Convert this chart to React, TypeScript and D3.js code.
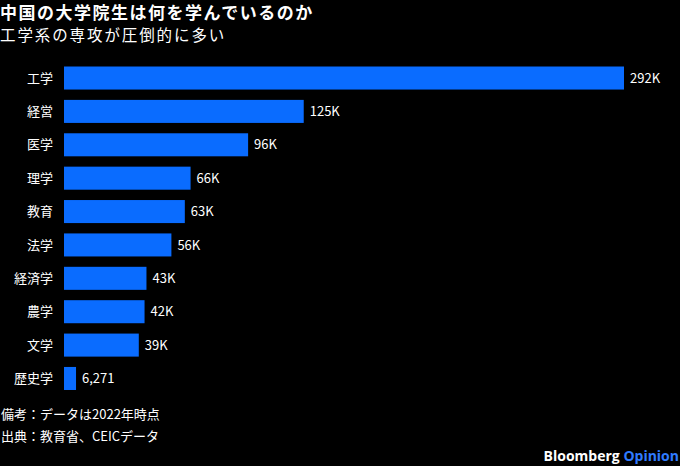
import { useEffect, useRef } from 'react'
import * as d3 from 'd3'

const categories = ['工学', '経営', '医学', '理学', '教育', '法学', '経済学', '農学', '文学', '歴史学']
const values = [292000, 125000, 96000, 66000, 63000, 56000, 43000, 42000, 39000, 6271]

const title = '中国の大学院生は何を学んでいるのか'
const subtitle = '工学系の専攻が圧倒的に多い'
const notes = ['備考：データは2022年時点', '出典：教育省、CEICデータ']

const W = 680
const H = 466
const FONT = '"Noto Sans CJK JP", "Noto Sans", sans-serif'

const fmt = (v: number) => (v >= 10000 ? Math.round(v / 1000) + 'K' : d3.format(',')(v))

export default function App() {
  const svgRef = useRef<SVGSVGElement>(null)

  useEffect(() => {
    if (!svgRef.current) return
    const svg = d3.select(svgRef.current)
    svg.selectAll('*').remove()

    svg.append('rect').attr('width', W).attr('height', H).attr('fill', '#000')

    const x = d3.scaleLinear().domain([0, 292000]).range([64, 624])
    const y = d3.scaleBand().domain(categories).range([61.5, 395]).paddingInner(0.31).paddingOuter(0.15)

    svg.append('text')
      .attr('x', 0).attr('y', 19)
      .attr('fill', '#fff').attr('font-size', 17).attr('font-weight', 700)
      .attr('letter-spacing', 1.5)
      .attr('font-family', FONT)
      .text(title)

    svg.append('text')
      .attr('x', 0).attr('y', 41)
      .attr('fill', '#fff').attr('font-size', 15.5)
      .attr('letter-spacing', 1.9)
      .attr('font-family', FONT)
      .text(subtitle)

    const g = svg.append('g')

    g.selectAll('rect.bar')
      .data(values)
      .enter().append('rect')
      .attr('class', 'bar')
      .attr('x', x(0))
      .attr('y', (_, i) => y(categories[i])!)
      .attr('width', d => x(d) - x(0))
      .attr('height', y.bandwidth())
      .attr('fill', '#0a6cff')

    g.selectAll('text.cat')
      .data(categories)
      .enter().append('text')
      .attr('class', 'cat')
      .attr('x', 53)
      .attr('y', d => y(d)! + y.bandwidth() / 2)
      .attr('dy', '0.36em')
      .attr('text-anchor', 'end')
      .attr('fill', '#fff').attr('font-size', 13)
      .attr('font-family', FONT)
      .text(d => d)

    g.selectAll('text.val')
      .data(values)
      .enter().append('text')
      .attr('class', 'val')
      .attr('x', d => x(d) + 6)
      .attr('y', (_, i) => y(categories[i])! + y.bandwidth() / 2)
      .attr('dy', '0.36em')
      .attr('fill', '#fff').attr('font-size', 13)
      .attr('font-family', FONT)
      .text(d => fmt(d))

    svg.selectAll('text.note')
      .data(notes)
      .enter().append('text')
      .attr('class', 'note')
      .attr('x', 1)
      .attr('y', (_, i) => 419 + i * 22)
      .attr('fill', '#fff').attr('font-size', 13)
      .attr('font-family', FONT)
      .text(d => d)

    const brand = svg.append('text')
      .attr('x', 679).attr('y', 461)
      .attr('text-anchor', 'end')
      .attr('font-size', 14).attr('font-weight', 700)
      .attr('font-family', '"Open Sans", "Noto Sans", sans-serif')
    brand.append('tspan').attr('fill', '#fff').text('Bloomberg ')
    brand.append('tspan').attr('fill', '#2f7bff').text('Opinion')
  }, [])

  return (
    <div style={{ position: 'fixed', left: 0, top: 0, width: W, height: H, background: '#000' }}>
      <svg ref={svgRef} width={W} height={H} style={{ display: 'block' }} />
    </div>
  )
}
